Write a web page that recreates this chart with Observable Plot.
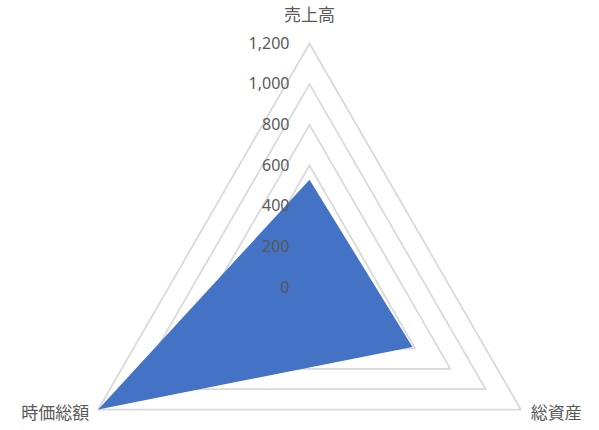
<!DOCTYPE html>
<html><head><meta charset="utf-8">
<script src="https://cdn.jsdelivr.net/npm/d3@7"></script>
<script src="https://cdn.jsdelivr.net/npm/@observablehq/plot@0.6"></script>
<style>body{margin:0;background:#fff}</style>
</head><body><div id="chart"></div>
<script>
const categories = ["売上高", "総資産", "時価総額"];
const values = [530, 585, 1200];
const levels = [0, 200, 400, 600, 800, 1000, 1200];
const tickLabels = ["0", "200", "400", "600", "800", "1,000", "1,200"];

const ang = i => Math.PI / 2 - i * 2 * Math.PI / categories.length;
const pt = (i, v) => ({x: v * Math.cos(ang(i)), y: v * Math.sin(ang(i))});

const grid = levels.flatMap(l => [0, 1, 2, 3].map(k => ({level: l, ...pt(k % 3, l)})));
const poly = [0, 1, 2, 0].map(k => pt(k, values[k % 3]));
const ticks = levels.map((l, i) => ({x: 0, y: l, label: tickLabels[i]}));
const axisLabels = categories.map((c, i) => ({...pt(i, 1200), label: c, i}));

const k = 244 / 1200;
const font = "'Noto Sans CJK JP', 'Noto Sans', sans-serif";
const chart = Plot.plot({
  width: 599, height: 430,
  margin: 0,
  x: {domain: [-309 / k, (599 - 309) / k], axis: null},
  y: {domain: [-(430 - 287) / k, 287 / k], axis: null},
  style: {background: "#fff"},
  marks: [
    Plot.line(grid, {x: "x", y: "y", z: "level", stroke: "#d9d9d9", strokeWidth: 1.75}),
    Plot.line(poly, {x: "x", y: "y", fill: "#4472C4", stroke: "none"}),
    Plot.text(ticks, {x: "x", y: "y", text: "label", textAnchor: "end", dx: -20, fill: "#595959", fontSize: 16, fontFamily: "Noto Sans"}),
    Plot.text(axisLabels.filter(d => d.i === 0), {x: "x", y: "y", text: "label", dy: -28, fill: "#595959", fontSize: 17, fontFamily: font}),
    Plot.text(axisLabels.filter(d => d.i === 1), {x: "x", y: "y", text: "label", textAnchor: "start", dx: 10, dy: 4, fill: "#595959", fontSize: 17, fontFamily: font}),
    Plot.text(axisLabels.filter(d => d.i === 2), {x: "x", y: "y", text: "label", textAnchor: "end", dx: -9, dy: 4, fill: "#595959", fontSize: 17, fontFamily: font})
  ]
});
document.getElementById("chart").append(chart);
</script>
</body></html>
